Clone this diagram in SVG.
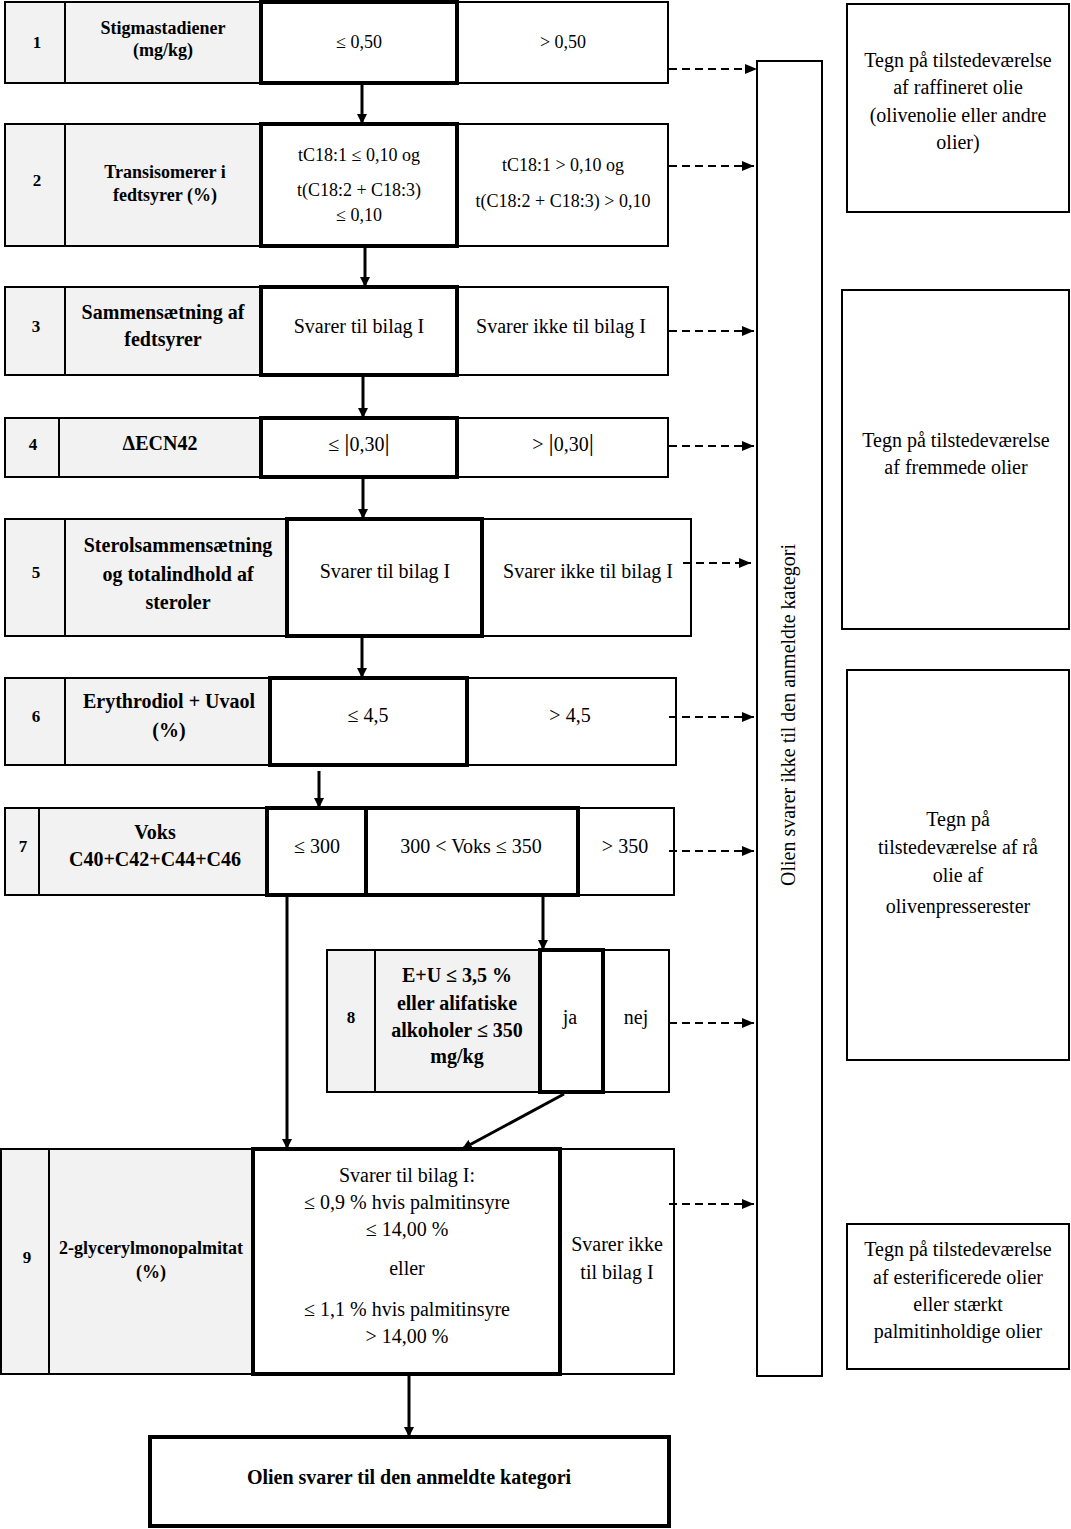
<svg xmlns="http://www.w3.org/2000/svg" width="1071" height="1529" viewBox="0 0 1071 1529">
<defs>
<style>
text{font-family:"Liberation Serif","Times New Roman",serif;fill:#000;text-anchor:middle}
.b{font-weight:bold}
.s18{font-size:18px}
.s20{font-size:20px}
.n{font-size:17px;font-weight:bold}
.cell{fill:#fff;stroke:#000;stroke-width:2}
.gray{fill:#f2f2f2;stroke:#000;stroke-width:2}
.thick{fill:#fff;stroke:#000;stroke-width:4}
.solid{stroke:#000;stroke-width:3;fill:none}
.dash{stroke:#000;stroke-width:2;fill:none;stroke-dasharray:8 5}
.box{fill:#fff;stroke:#000;stroke-width:2}
</style>
<marker id="ah" viewBox="0 0 10 10" refX="10" refY="5" markerWidth="10" markerHeight="10" markerUnits="userSpaceOnUse" orient="auto">
<path d="M0,0 L10,5 L0,10 z" fill="#000"/>
</marker>
<marker id="dh" viewBox="0 0 12 10" refX="12" refY="5" markerWidth="12" markerHeight="10" markerUnits="userSpaceOnUse" orient="auto">
<path d="M0,0 L12,5 L0,10 z" fill="#000"/>
</marker>
</defs>
<rect width="1071" height="1529" fill="#fff"/>

<g id="row1">
<rect class="gray" x="5" y="2" width="60" height="81"/>
<rect class="gray" x="65" y="2" width="196" height="81"/>
<rect class="cell" x="457" y="2" width="211" height="81"/>
<rect class="thick" x="261" y="2" width="196" height="81"/>
<text class="n" x="37" y="48">1</text>
<text class="b s18" x="163" y="34">Stigmastadiener</text>
<text class="b s18" x="163" y="56">(mg/kg)</text>
<text class="s18" x="359" y="48">≤ 0,50</text>
<text class="s18" x="563" y="48">&gt; 0,50</text>
</g>

<g id="row2">
<rect class="gray" x="5" y="124" width="60" height="122"/>
<rect class="gray" x="65" y="124" width="196" height="122"/>
<rect class="cell" x="457" y="124" width="211" height="122"/>
<rect class="thick" x="261" y="124" width="196" height="122"/>
<text class="n" x="37" y="186">2</text>
<text class="b s18" x="165" y="178">Transisomerer i</text>
<text class="b s18" x="165" y="201">fedtsyrer (%)</text>
<text class="s18" x="359" y="161">tC18:1 ≤ 0,10 og</text>
<text class="s18" x="359" y="196">t(C18:2 + C18:3)</text>
<text class="s18" x="359" y="221">≤ 0,10</text>
<text class="s18" x="563" y="171">tC18:1 &gt; 0,10 og</text>
<text class="s18" x="563" y="207">t(C18:2 + C18:3) &gt; 0,10</text>
</g>

<g id="row3">
<rect class="gray" x="5" y="287" width="60" height="88"/>
<rect class="gray" x="65" y="287" width="196" height="88"/>
<rect class="cell" x="457" y="287" width="211" height="88"/>
<rect class="thick" x="261" y="287" width="196" height="88"/>
<text class="n" x="36" y="332">3</text>
<text class="b s20" x="163" y="319">Sammensætning af</text>
<text class="b s20" x="163" y="346">fedtsyrer</text>
<text class="s20" x="359" y="333">Svarer til bilag I</text>
<text class="s20" x="561" y="333">Svarer ikke til bilag I</text>
</g>

<g id="row4">
<rect class="gray" x="5" y="418" width="54" height="59"/>
<rect class="gray" x="59" y="418" width="202" height="59"/>
<rect class="cell" x="457" y="418" width="211" height="59"/>
<rect class="thick" x="261" y="418" width="196" height="59"/>
<text class="n" x="33" y="450">4</text>
<text class="b s20" x="160" y="450">ΔECN42</text>
<text class="s20" x="359" y="451">≤ <tspan font-size="26">|</tspan>0,30<tspan font-size="26">|</tspan></text>
<text class="s20" x="563" y="451">&gt; <tspan font-size="26">|</tspan>0,30<tspan font-size="26">|</tspan></text>
</g>

<g id="row5">
<rect class="gray" x="5" y="519" width="60" height="117"/>
<rect class="gray" x="65" y="519" width="222" height="117"/>
<rect class="cell" x="482" y="519" width="209" height="117"/>
<rect class="thick" x="287" y="519" width="195" height="117"/>
<text class="n" x="36" y="578">5</text>
<text class="b s20" x="178" y="552">Sterolsammensætning</text>
<text class="b s20" x="178" y="581">og totalindhold af</text>
<text class="b s20" x="178" y="609">steroler</text>
<text class="s20" x="385" y="578">Svarer til bilag I</text>
<text class="s20" x="588" y="578">Svarer ikke til bilag I</text>
</g>

<g id="row6">
<rect class="gray" x="5" y="678" width="60" height="87"/>
<rect class="gray" x="65" y="678" width="205" height="87"/>
<rect class="cell" x="467" y="678" width="209" height="87"/>
<rect class="thick" x="270" y="678" width="197" height="87"/>
<text class="n" x="36" y="722">6</text>
<text class="b s20" x="169" y="708">Erythrodiol + Uvaol</text>
<text class="b s20" x="169" y="737">(%)</text>
<text class="s20" x="368" y="722">≤ 4,5</text>
<text class="s20" x="570" y="722">&gt; 4,5</text>
</g>

<g id="row7">
<rect class="gray" x="5" y="808" width="34" height="87"/>
<rect class="gray" x="39" y="808" width="228" height="87"/>
<rect class="cell" x="578" y="808" width="96" height="87"/>
<rect class="thick" x="267" y="808" width="99" height="87"/>
<rect class="thick" x="366" y="808" width="212" height="87"/>
<text class="n" x="23" y="852">7</text>
<text class="b s20" x="155" y="839">Voks</text>
<text class="b s20" x="155" y="866">C40+C42+C44+C46</text>
<text class="s20" x="317" y="853">≤ 300</text>
<text class="s20" x="471" y="853">300 &lt; Voks ≤ 350</text>
<text class="s20" x="625" y="853">&gt; 350</text>
</g>

<g id="row8">
<rect class="gray" x="327" y="950" width="48" height="142"/>
<rect class="gray" x="375" y="950" width="165" height="142"/>
<rect class="cell" x="603" y="950" width="66" height="142"/>
<rect class="thick" x="540" y="950" width="63" height="142"/>
<text class="n" x="351" y="1023">8</text>
<text class="b s20" x="457" y="982">E+U ≤ 3,5 %</text>
<text class="b s20" x="457" y="1010">eller alifatiske</text>
<text class="b s20" x="457" y="1037">alkoholer ≤ 350</text>
<text class="b s20" x="457" y="1063">mg/kg</text>
<text class="s20" x="570" y="1024">ja</text>
<text class="s20" x="636" y="1024">nej</text>
</g>

<g id="row9">
<rect class="gray" x="1" y="1149" width="48" height="225"/>
<rect class="gray" x="49" y="1149" width="204" height="225"/>
<rect class="cell" x="560" y="1149" width="114" height="225"/>
<rect class="thick" x="253" y="1149" width="307" height="225"/>
<text class="n" x="27" y="1263">9</text>
<text class="b s18" x="151" y="1254">2-glycerylmonopalmitat</text>
<text class="b s18" x="151" y="1278">(%)</text>
<text class="s20" x="407" y="1182">Svarer til bilag I:</text>
<text class="s20" x="407" y="1209">≤ 0,9 % hvis palmitinsyre</text>
<text class="s20" x="407" y="1236">≤ 14,00 %</text>
<text class="s20" x="407" y="1275">eller</text>
<text class="s20" x="407" y="1316">≤ 1,1 % hvis palmitinsyre</text>
<text class="s20" x="407" y="1343">&gt; 14,00 %</text>
<text class="s20" x="617" y="1251">Svarer ikke</text>
<text class="s20" x="617" y="1279">til bilag I</text>
</g>

<g id="final">
<rect class="thick" x="150" y="1437" width="519" height="89"/>
<text class="b s20" x="409" y="1484">Olien svarer til den anmeldte kategori</text>
</g>

<g id="reject">
<rect class="box" x="757" y="61" width="65" height="1315"/>
<text class="s20" transform="translate(795,715) rotate(-90)">Olien svarer ikke til den anmeldte kategori</text>
</g>

<g id="outcomeA">
<rect class="box" x="847" y="4" width="222" height="208"/>
<text class="s20" x="958" y="67">Tegn på tilstedeværelse</text>
<text class="s20" x="958" y="94">af raffineret olie</text>
<text class="s20" x="958" y="122">(olivenolie eller andre</text>
<text class="s20" x="958" y="149">olier)</text>
</g>

<g id="outcomeB">
<rect class="box" x="842" y="290" width="227" height="339"/>
<text class="s20" x="956" y="447">Tegn på tilstedeværelse</text>
<text class="s20" x="956" y="474">af fremmede olier</text>
</g>

<g id="outcomeC">
<rect class="box" x="847" y="670" width="222" height="390"/>
<text class="s20" x="958" y="826">Tegn på</text>
<text class="s20" x="958" y="854">tilstedeværelse af rå</text>
<text class="s20" x="958" y="882">olie af</text>
<text class="s20" x="958" y="913">olivenpresserester</text>
</g>

<g id="outcomeD">
<rect class="box" x="847" y="1224" width="222" height="145"/>
<text class="s20" x="958" y="1256">Tegn på tilstedeværelse</text>
<text class="s20" x="958" y="1284">af esterificerede olier</text>
<text class="s20" x="958" y="1311">eller stærkt</text>
<text class="s20" x="958" y="1338">palmitinholdige olier</text>
</g>

<g id="connectors">
<line class="solid" x1="362" y1="85" x2="362" y2="124" marker-end="url(#ah)"/>
<line class="solid" x1="365" y1="248" x2="365" y2="287" marker-end="url(#ah)"/>
<line class="solid" x1="363" y1="377" x2="363" y2="418" marker-end="url(#ah)"/>
<line class="solid" x1="363" y1="479" x2="363" y2="519" marker-end="url(#ah)"/>
<line class="solid" x1="362" y1="638" x2="362" y2="678" marker-end="url(#ah)"/>
<line class="solid" x1="319" y1="771" x2="319" y2="808" marker-end="url(#ah)"/>
<line class="solid" x1="287" y1="897" x2="287" y2="1149" marker-end="url(#ah)"/>
<line class="solid" x1="543" y1="897" x2="543" y2="950" marker-end="url(#ah)"/>
<line class="solid" x1="564" y1="1094" x2="462" y2="1149" marker-end="url(#ah)"/>
<line class="solid" x1="409" y1="1376" x2="409" y2="1437" marker-end="url(#ah)"/>
<line class="dash" x1="669" y1="69" x2="757" y2="69" marker-end="url(#dh)"/>
<line class="dash" x1="669" y1="166" x2="754" y2="166" marker-end="url(#dh)"/>
<line class="dash" x1="669" y1="331" x2="754" y2="331" marker-end="url(#dh)"/>
<line class="dash" x1="669" y1="446" x2="754" y2="446" marker-end="url(#dh)"/>
<line class="dash" x1="683" y1="563" x2="751" y2="563" marker-end="url(#dh)"/>
<line class="dash" x1="669" y1="717" x2="754" y2="717" marker-end="url(#dh)"/>
<line class="dash" x1="669" y1="851" x2="754" y2="851" marker-end="url(#dh)"/>
<line class="dash" x1="669" y1="1023" x2="754" y2="1023" marker-end="url(#dh)"/>
<line class="dash" x1="669" y1="1204" x2="754" y2="1204" marker-end="url(#dh)"/>
</g>
</svg>
